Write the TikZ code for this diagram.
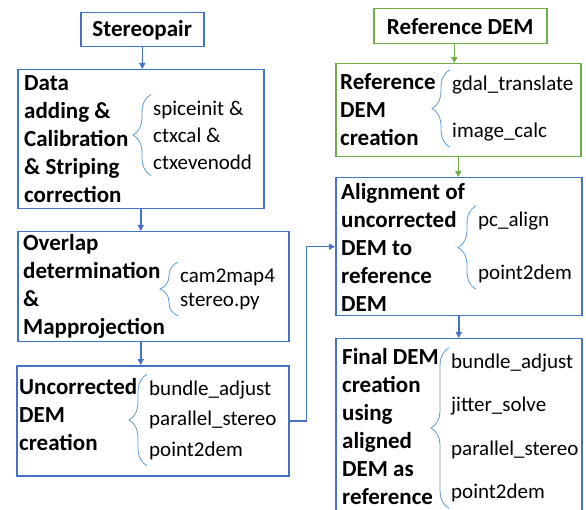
\documentclass[tikz,border=0pt]{standalone}
\usepackage{fontspec}
\setmainfont{Carlito}
\usepackage{xcolor}
\usetikzlibrary{arrows.meta, positioning, decorations.pathreplacing}

\definecolor{boxblue}{HTML}{4472C4}
\definecolor{boxgreen}{HTML}{70AD47}
\definecolor{braceblue}{HTML}{5B9BD5}

\begin{document}
\begin{tikzpicture}[
    x=1pt, y=-1pt,
    box/.style={
        rectangle, draw=boxblue, line width=1.5pt,
        anchor=north west, inner sep=0pt
    },
    greenbox/.style={box, draw=boxgreen},
    heading/.style={font=\fontsize{23}{28}\selectfont\bfseries, inner sep=0pt},
    steptitle/.style={
        font=\fontsize{23}{28}\selectfont\bfseries,
        align=left, anchor=west, inner sep=0pt
    },
    tools/.style={
        font=\fontsize{21}{#1}\selectfont,
        align=left, anchor=west, inner sep=2pt
    },
    arrow/.style={-{Triangle[length=6pt, width=6pt]}, line width=1.5pt, draw=boxblue},
    greenarrow/.style={arrow, draw=boxgreen},
    curly/.style={
        decorate, decoration={brace, amplitude=18pt},
        draw=braceblue, line width=0.8pt
    },
]

\useasboundingbox (0,0) rectangle (586,510);
\clip (0,0) rectangle (586,510);

%% Colonna sinistra: stereopair
\node[box, minimum width=123pt, minimum height=34pt] (stereo) at (80,12) {};
\node[heading] (stereolabel) at (stereo.center) {Stereopair};

\node[box, minimum width=246pt, minimum height=139pt] (prep) at (17,69) {};
\node[steptitle] (preptitle) at (24,139)
    {Data\\adding \&\\Calibration\\\& Striping\\correction};
\node[tools=27pt] (preptools) at (151,135)
    {spiceinit \&\\ctxcal \&\\ctxevenodd};

\node[box, minimum width=271pt, minimum height=110pt] (overlap) at (17,231) {};
\node[steptitle] (overlaptitle) at (23,286)
    {Overlap\\determination\\\&\\Mapprojection};
\node[tools=24pt] (overlaptools) at (178,289)
    {cam2map4\\stereo.py};

\node[box, minimum width=272pt, minimum height=110pt] (uncorr) at (16,365) {};
\node[steptitle] (uncorrtitle) at (19,415)
    {Uncorrected\\DEM\\creation};
\node[tools=30.5pt] (uncorrtools) at (147,420)
    {bundle\_adjust\\parallel\_stereo\\point2dem};

%% Colonna destra: reference DEM
\node[greenbox, minimum width=173pt, minimum height=35pt] (refdem) at (373,8) {};
\node[heading] (refdemlabel) at (refdem.center) {Reference DEM};

\node[greenbox, minimum width=245pt, minimum height=93pt] (refcreate) at (335,63) {};
\node[steptitle] (refcreatetitle) at (340,110)
    {Reference\\DEM\\creation};
\node[tools=47pt] (refcreatetools) at (450,108.5)
    {gdal\_translate\\image\_calc};

\node[box, minimum width=246pt, minimum height=138pt] (align) at (335,177) {};
\node[steptitle] (aligntitle) at (341,247)
    {Alignment of\\uncorrected\\DEM to\\reference\\DEM};
\node[tools=53pt] (aligntools) at (476,247.5)
    {pc\_align\\point2dem};

\node[box, minimum width=246pt, minimum height=182pt] (final) at (335,338) {};
\node[steptitle] (finaltitle) at (342,427)
    {Final DEM\\creation\\using\\aligned\\DEM as\\reference};
\node[tools=43.3pt] (finaltools) at (449,428)
    {bundle\_adjust\\jitter\_solve\\parallel\_stereo\\point2dem};

%% Graffe
\foreach \t in {preptools, overlaptools, uncorrtools,
                refcreatetools, aligntools, finaltools}
    \draw[curly] ([shift={(0,4)}]\t.south west) -- ([shift={(0,-4)}]\t.north west);

%% Frecce
\draw[arrow] (stereo.south) -- (stereo.south |- prep.north);
\draw[arrow] (prep.south) -- (prep.south |- overlap.north);
\draw[arrow] (overlap.south -| prep.south) -- (uncorr.north -| prep.south);
\draw[arrow] (uncorr.east) -- ++(17,0) |- (align.west);

\draw[greenarrow] ([xshift=-6pt]refdem.south) -- ([xshift=-6pt]refdem.south |- refcreate.north);
\draw[greenarrow] (refcreate.south) -- (refcreate.south |- align.north);
\draw[arrow] (align.south) -- (align.south |- final.north);

\end{tikzpicture}
\end{document}
